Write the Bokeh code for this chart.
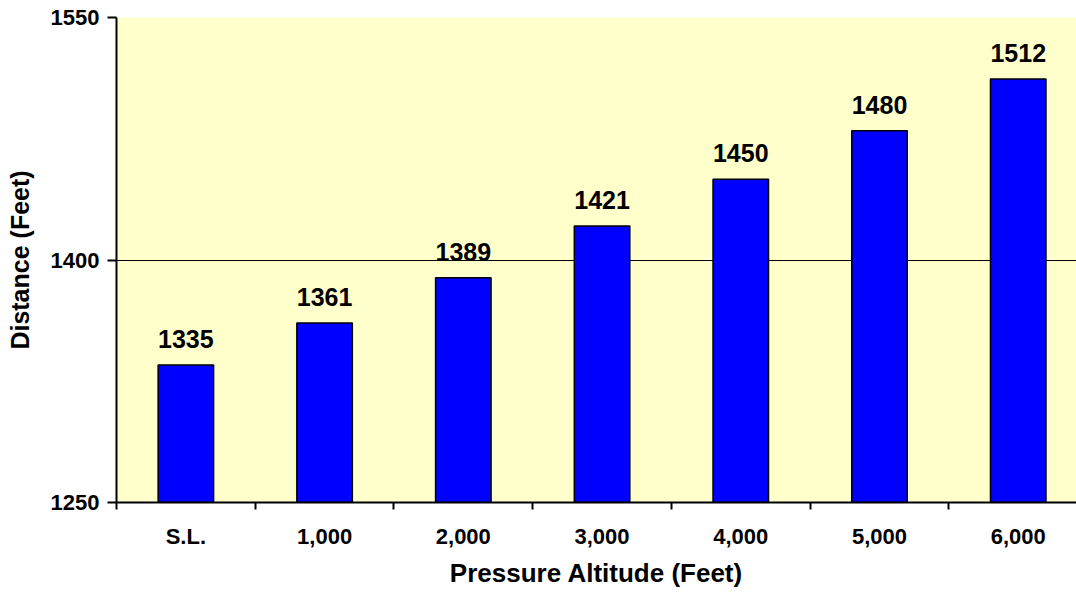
import numpy as np
from bokeh.plotting import figure
from bokeh.models import Range1d, FixedTicker, Grid, ColumnDataSource
from bokeh.core.properties import value
from bokeh.embed import file_html
from bokeh.resources import INLINE

categories = ["S.L.", "1,000", "2,000", "3,000", "4,000", "5,000", "6,000"]
distances = [1335, 1361, 1389, 1421, 1450, 1480, 1512]
y_ticks = [1250, 1400, 1550]
x_title = "Pressure Altitude (Feet)"
y_title = "Distance (Feet)"

FONT = "Liberation Sans"

idx = np.arange(len(categories))
centers = idx + 0.5
boundaries = np.arange(len(categories))

src = ColumnDataSource(dict(
    x=centers,
    top=distances,
    label=[str(d) for d in distances],
))

p = figure(width=1076, height=598, output_backend="svg", toolbar_location=None,
           x_range=Range1d(0, 6.92), y_range=Range1d(y_ticks[0], y_ticks[-1]),
           min_border_left=116, min_border_right=0, min_border_top=17, min_border_bottom=96)

p.background_fill_color = "#FFFFCC"
p.border_fill_color = "white"
p.outline_line_color = None

p.vbar(x="x", top="top", bottom=y_ticks[0], width=0.4, source=src,
       fill_color="#0000FF", line_color="black", line_width=1.5)

p.text(x="x", y="top", text="label", source=src,
       text_font=value(FONT), text_font_style="bold", text_font_size="25px",
       text_color="black", text_align="center", text_baseline="alphabetic", y_offset=-26)

# grids
p.xgrid.visible = False
p.ygrid.ticker = FixedTicker(ticks=y_ticks[1:-1])
p.ygrid.grid_line_color = "black"
p.ygrid.grid_line_width = 1
top_grid = Grid(dimension=1, ticker=FixedTicker(ticks=[y_ticks[-1]]),
                grid_line_color="#808080", grid_line_width=1.5)
p.add_layout(top_grid)

# x axis
xa = p.xaxis[0]
xa.ticker = FixedTicker(ticks=list(centers), minor_ticks=list(boundaries))
xa.major_label_overrides = {float(c): cat for c, cat in zip(centers, categories)}
xa.major_tick_out = 0
xa.major_tick_in = 0
xa.minor_tick_out = 7
xa.minor_tick_in = 0
xa.minor_tick_line_color = "black"
xa.minor_tick_line_width = 2
xa.axis_line_color = "black"
xa.axis_line_width = 2
xa.major_label_standoff = 14
xa.major_label_text_font = FONT
xa.major_label_text_font_style = "bold"
xa.major_label_text_font_size = "22px"
xa.major_label_text_color = "black"
xa.axis_label = x_title
xa.axis_label_text_font = FONT
xa.axis_label_text_font_style = "bold"
xa.axis_label_text_font_size = "26px"
xa.axis_label_text_color = "black"
xa.axis_label_standoff = 6

# y axis
ya = p.yaxis[0]
ya.ticker = FixedTicker(ticks=y_ticks)
ya.major_tick_out = 9
ya.major_tick_in = 0
ya.major_tick_line_color = "black"
ya.major_tick_line_width = 2
ya.minor_tick_line_color = None
ya.axis_line_color = "black"
ya.axis_line_width = 2
ya.major_label_standoff = 8
ya.major_label_text_font = FONT
ya.major_label_text_font_style = "bold"
ya.major_label_text_font_size = "22px"
ya.major_label_text_color = "black"
ya.axis_label = y_title
ya.axis_label_text_font = FONT
ya.axis_label_text_font_style = "bold"
ya.axis_label_text_font_size = "25px"
ya.axis_label_text_color = "black"
ya.axis_label_standoff = 14

open("out.html", "w").write(file_html(p, INLINE))
